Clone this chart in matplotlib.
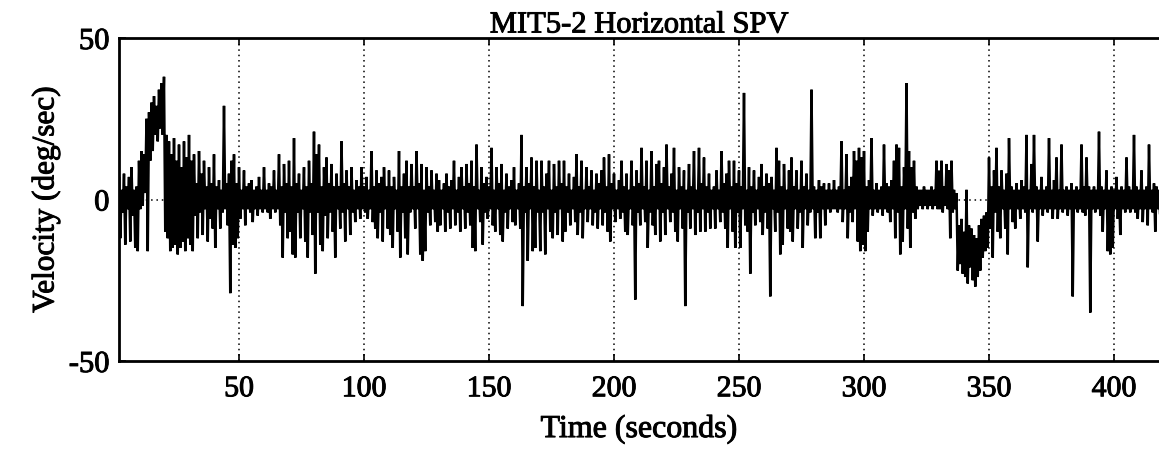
import numpy as np
import matplotlib
matplotlib.use("Agg")
import matplotlib.pyplot as plt
import matplotlib.patheffects as pe

plt.rcParams['font.family'] = ['Liberation Serif', 'DejaVu Serif']

# time (s) at the start of each one-second block
time_s = list(range(0, 420))

# per-second peak (upper) velocity, deg/sec
vel_peak = [
    4, 5, 7, 3, 8, 4, 7, 10, 3, 4,
    12, 15, 14, 25, 27, 30, 32, 29, 34, 36,
    38, 20, 18, 14, 19, 12, 17, 10, 18, 13,
    20, 12, 14, 5, 15, 8, 12, 4, 10, 5,
    14, 4, 6, 3, 29, 5, 8, 12, 14, 5,
    10, 3, 9, 4, 5, 6, 3, 4, 7, 3,
    10, 3, 5, 4, 9, 3, 14, 4, 11, 5,
    12, 4, 19, 5, 8, 3, 10, 4, 12, 5,
    21, 14, 17, 4, 10, 13, 5, 11, 4, 8,
    4, 18, 5, 9, 4, 10, 3, 6, 4, 10,
    4, 7, 3, 15, 4, 9, 5, 7, 10, 4,
    9, 4, 7, 3, 15, 4, 8, 12, 4, 11,
    4, 15, 5, 11, 3, 10, 4, 9, 3, 8,
    6, 3, 5, 8, 4, 6, 12, 3, 7, 10,
    4, 11, 5, 12, 4, 17, 3, 10, 5, 7,
    4, 16, 3, 10, 5, 11, 3, 8, 4, 6,
    10, 3, 5, 20, 4, 10, 5, 13, 4, 12,
    3, 12, 4, 8, 12, 3, 11, 4, 12, 5,
    12, 4, 8, 3, 7, 14, 4, 12, 3, 10,
    4, 9, 3, 8, 5, 9, 13, 4, 14, 5,
    8, 3, 6, 12, 4, 8, 3, 12, 4, 9,
    5, 16, 4, 12, 3, 15, 4, 11, 12, 5,
    10, 17, 4, 8, 16, 3, 10, 4, 9, 3,
    11, 4, 15, 3, 16, 5, 13, 4, 8, 3,
    4, 9, 3, 15, 5, 8, 12, 4, 12, 5,
    9, 4, 33, 3, 10, 4, 9, 3, 7, 11,
    4, 8, 5, 7, 3, 16, 12, 4, 11, 3,
    9, 13, 4, 9, 3, 12, 4, 8, 3, 34,
    4, 3, 6, 4, 5, 3, 5, 3, 6, 3,
    4, 18, 3, 14, 4, 7, 15, 12, 16, 13,
    15, 4, 6, 19, 3, 5, 3, 4, 17, 5,
    4, 6, 12, 17, 16, 4, 10, 36, 15, 10,
    12, 4, 3, 3, 4, 3, 3, 4, 3, 12,
    9, 12, 4, 11, 9, 12, 3, 2, -8, -6,
    -10, 3, -8, -9, -11, -12, -8, -6, -5, -4,
    13, 4, 9, 16, 4, 9, 3, 8, 19, 4,
    3, 5, 3, 6, 4, 20, 3, 11, 20, 4,
    3, 7, 3, 4, 19, 3, 6, 13, 3, 17,
    3, 4, 3, 5, 3, 4, 3, 17, 4, 13,
    4, 3, 4, 3, 21, 4, 3, 9, 3, 4,
    3, 7, 3, 4, 3, 13, 4, 3, 20, 4,
    3, 9, 3, 4, 17, 3, 5, 4, 3, 5,
]

# per-second trough (lower) velocity, deg/sec
vel_trough = [
    -8, -10, -12, -4, -14, -3, -13, -5, -15, -16,
    -3, -2, 2, -16, 12, 15, 20, 18, 22, 20,
    -10, -12, -16, -15, -14, -17, -15, -13, -16, -12,
    -14, -16, -5, -12, -4, -11, -3, -13, -6, -9,
    -15, -3, -9, -4, -3, -8, -29, -14, -15, -12,
    -6, -3, -8, -3, -4, -7, -3, -5, -3, -4,
    -3, -4, -6, -3, -4, -3, -8, -18, -4, -12,
    -10, -17, -18, -4, -12, -3, -13, -18, -4, -11,
    -23, -4, -14, -16, -5, -12, -4, -10, -18, -3,
    -9, -4, -13, -3, -11, -4, -7, -3, -6, -3,
    -4, -6, -3, -7, -9, -12, -4, -13, -3, -9,
    -11, -15, -3, -10, -18, -4, -12, -17, -4, -3,
    -9, -3, -17, -19, -16, -4, -8, -3, -7, -10,
    -8, -3, -10, -4, -9, -3, -8, -4, -10, -3,
    -9, -4, -8, -15, -16, -3, -7, -14, -4, -6,
    -3, -8, -10, -3, -11, -13, -4, -9, -3, -7,
    -8, -3, -9, -33, -4, -19, -3, -16, -15, -4,
    -16, -4, -17, -3, -10, -12, -4, -11, -3, -13,
    -10, -4, -8, -3, -7, -11, -4, -12, -3, -7,
    -3, -8, -4, -9, -3, -8, -4, -10, -13, -3,
    -7, -3, -6, -4, -10, -11, -3, -8, -31, -4,
    -8, -3, -7, -15, -4, -8, -11, -3, -13, -4,
    -11, -3, -7, -4, -10, -13, -3, -9, -33, -4,
    -9, -3, -11, -4, -10, -3, -10, -4, -9, -3,
    -9, -3, -7, -4, -9, -15, -3, -10, -15, -4,
    -15, -3, -8, -10, -23, -4, -8, -3, -7, -11,
    -4, -9, -30, -3, -10, -4, -17, -14, -3, -9,
    -10, -13, -3, -9, -4, -15, -3, -8, -4, -3,
    -12, -4, -12, -3, -8, -3, -4, -3, -3, -4,
    -3, -7, -3, -12, -4, -7, -3, -13, -16, -14,
    -16, -10, -3, -5, -3, -4, -3, -5, -3, -4,
    -7, -3, -12, -4, -17, -13, -3, -9, -15, -4,
    -6, -3, -2, -3, -2, -3, -2, -3, -2, -3,
    -3, -4, -2, -3, -12, -4, -3, -22, -20, -23,
    -24, -26, -21, -25, -27, -24, -22, -18, -16, -15,
    -9, -18, -4, -10, -12, -3, -9, -17, -3, -7,
    -9, -3, -6, -3, -4, -21, -3, -4, -3, -13,
    -3, -5, -3, -4, -3, -6, -3, -6, -3, -4,
    -3, -5, -3, -30, -3, -4, -3, -4, -5, -3,
    -35, -3, -4, -3, -5, -10, -3, -16, -17, -15,
    -3, -6, -11, -3, -4, -3, -4, -3, -4, -6,
    -3, -7, -3, -8, -3, -4, -10, -3, -6, -3,
]

x_ticks = [50, 100, 150, 200, 250, 300, 350, 400]
y_ticks = [-50, 0, 50]

# trace: peak then trough within each second
t = np.asarray(time_s, dtype=float)
trace_t = np.column_stack([t, t + 0.5]).ravel()
trace_v = np.column_stack([vel_peak, vel_trough]).ravel()

fig = plt.figure(figsize=(11.59, 4.53), dpi=100)
ax = fig.add_axes([119 / 1159, 1 - 361 / 453, 1 - 119 / 1159, (361 - 38) / 453])

ax.plot(trace_t, trace_v, color='black', lw=1.8, solid_joinstyle='miter')

ax.set_xlim(2, 418)
ax.set_ylim(-50, 50)
ax.set_xticks(x_ticks)
ax.set_yticks(y_ticks)
ax.set_xticklabels([str(v) for v in x_ticks], fontsize=21.5)
ax.set_yticklabels([str(v) for v in y_ticks], fontsize=22)
ax.grid(True, axis='x', linestyle=(0, (1, 2.5)), color='black', lw=1.1)
ax.axhline(0, linestyle=(0, (1, 2.5)), color='black', lw=1.1, zorder=0)
ax.tick_params(axis='both', direction='in', length=5, width=1.2, top=True)
ax.tick_params(axis='x', pad=11)
ax.tick_params(axis='y', pad=7)

for side in ['top', 'left', 'bottom']:
    ax.spines[side].set_linewidth(2)
ax.spines['right'].set_visible(False)

heavy = [pe.withStroke(linewidth=0.7, foreground='black')]
ax.set_title('MIT5-2 Horizontal SPV', fontsize=22, pad=4, path_effects=heavy)
ax.set_xlabel('Time (seconds)', fontsize=23, labelpad=9, path_effects=heavy)
ax.set_ylabel('Velocity (deg/sec)', fontsize=22.5, labelpad=6, path_effects=heavy)
for lbl in ax.get_xticklabels() + ax.get_yticklabels():
    lbl.set_path_effects(heavy)

fig.savefig('out.png', dpi=100)
